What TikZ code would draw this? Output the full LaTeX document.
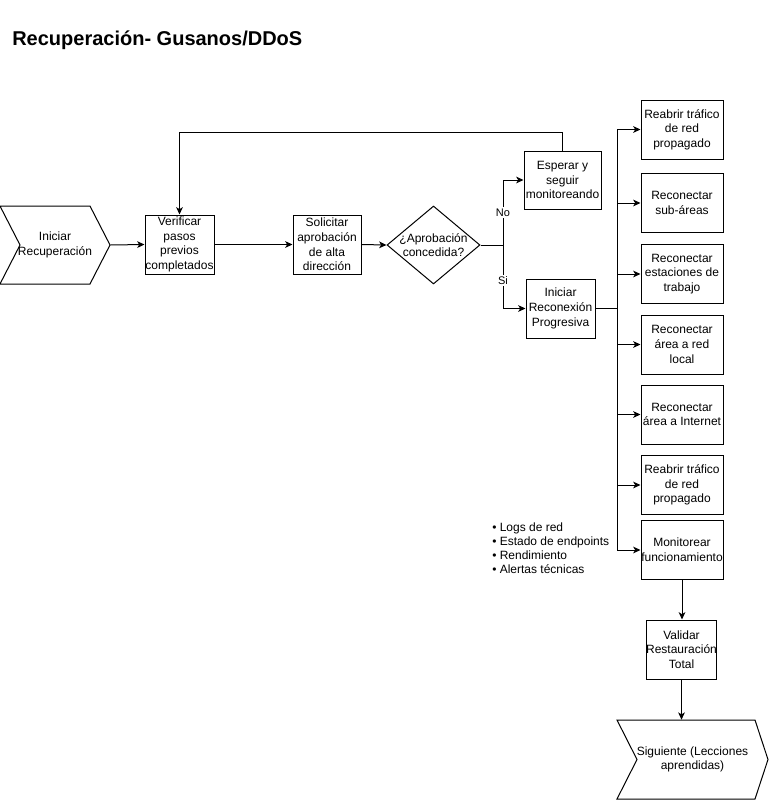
\documentclass[tikz,border=0pt]{standalone}
\usepackage{fontspec}
\setmainfont{Liberation Sans}
\usetikzlibrary{arrows.meta,shapes.geometric}
\begin{document}
\begin{tikzpicture}[x=0.75pt,y=-0.75pt,
  every node/.style={font=\fontsize{9}{11}\selectfont, inner sep=0pt, align=center},
  box/.style 2 args={draw, line width=0.75pt, minimum width=#1*0.75pt, minimum height=#2*0.75pt},
  rbox/.style={box={82}{59}},
  conn/.style={line width=0.75pt},
  arr/.style={conn, -{Stealth[length=5.5pt,width=5pt,inset=1.5pt]}},
  lab/.style={fill=white, font=\fontsize{8.25}{10}\selectfont, inner sep=1pt},
  chev/.style={line width=0.75pt}
]
\useasboundingbox (0,0) rectangle (769,800);
\node[anchor=base west, font=\fontsize{15}{18}\selectfont\bfseries] (title) at (12,45) {Recuperación- Gusanos/DDoS};

% start chevron
\node[minimum width=110*0.75pt, minimum height=78*0.75pt] (start) at (55,245) {Iniciar\\Recuperación};
\draw[chev] (0,206) -- (90,206) -- (110,245) -- (90,284) -- (0,284) -- (20,245) -- cycle;

\node[box={69}{59}] (verif) at (179.5,244.5) {Verificar\\pasos\\previos\\completados};
\node[box={68}{59}] (solic) at (327,244.5) {Solicitar\\aprobación\\de alta\\dirección};
\node[diamond, draw, line width=0.75pt, minimum width=93*0.75pt, minimum height=78*0.75pt] (dec) at (433.5,245) {};
\node (dectext) at (dec.center) {¿Aprobación\\concedida?};
\node[box={77}{58}] (esp) at (562.5,180) {Esperar y\\seguir\\monitoreando};
\node[box={69}{59}] (ini) at (560.5,308.5) {Iniciar\\Reconexión\\Progresiva};

\node[rbox] (r1) at (682,129.5) {Reabrir tráfico\\de red\\propagado};
\node[rbox] (r2) at (682,203) {Reconectar\\sub-áreas};
\node[rbox] (r3) at (682,274) {Reconectar\\estaciones de\\trabajo};
\node[rbox] (r4) at (682,344.5) {Reconectar\\área a red\\local};
\node[rbox] (r5) at (682,414.5) {Reconectar\\área a Internet};
\node[rbox] (r6) at (682,485) {Reabrir tráfico\\de red\\propagado};
\node[rbox] (r7) at (682,550) {Monitorear\\funcionamiento};

\node[box={69}{59}] (val) at (681.5,649.5) {Validar\\Restauración\\Total};

% final chevron
\node[minimum width=151*0.75pt, minimum height=79*0.75pt] (sig) at (692.5,759.5) {Siguiente (Lecciones\\aprendidas)};
\draw[chev] (617,720) -- (755,720) -- (768,759.5) -- (755,799) -- (617,799) -- (637,759.5) -- cycle;

\node[anchor=north west, align=left, font=\fontsize{9}{10.5}\selectfont] (notes) at (492,523) {• Logs de red\\• Estado de endpoints\\• Rendimiento\\• Alertas técnicas};

% connectors
\draw[arr] (start.east) -- (verif.west);
\draw[arr] (verif.east) -- (solic.west);
\draw[arr] (solic.east) -- (dec.west);
\coordinate (j1) at (503,245);
\draw[conn] (dec.east) -- (j1);
\draw[arr] (j1) |- node[lab,pos=0.25]{No} (esp.west);
\draw[arr] (j1) |- node[lab,pos=0.28]{Si} (ini.west);

\coordinate (fb) at (179.5,132);
\draw[arr] (esp.north) |- (fb) -- (verif.north);

\coordinate (bus) at (617,308.5);
\draw[conn] (ini.east) -- (bus);
\foreach \n in {r1,r2,r3,r4,r5,r6,r7} \draw[arr] (bus) |- (\n.west);

\draw[arr] (r7.south) -- (r7.south |- val.north);
\draw[arr] (val.south) -- (val.south |- sig.north);
\end{tikzpicture}
\end{document}
